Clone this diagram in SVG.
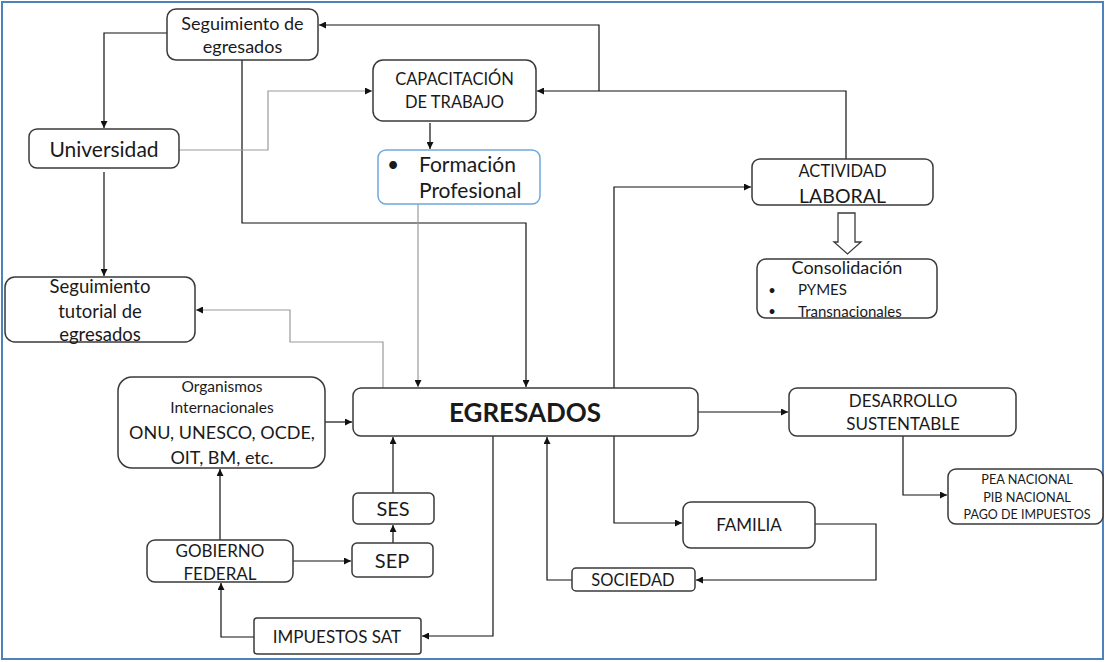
<svg xmlns="http://www.w3.org/2000/svg" width="1105" height="662" viewBox="0 0 1105 662">
<style>
.b{fill:#fff;stroke:#3a3a3a;stroke-width:1.5}
.bl{fill:#fff;stroke:#6fa8dc;stroke-width:1.5}
.t{font-family:Lato,"Liberation Sans",sans-serif;fill:#1a1a1a;text-anchor:middle}
.l{text-anchor:start}
.c{fill:none;stroke:#111;stroke-width:1.2}
.g{fill:none;stroke:#9a9a9a;stroke-width:1.2}
</style>
<defs>
<marker id="a" viewBox="0 0 10 10" refX="10" refY="5" markerWidth="7" markerHeight="7" markerUnits="userSpaceOnUse" orient="auto"><path d="M0,0 L10,5 L0,10 z" fill="#111"/></marker>
</defs>
<rect x="2" y="2" width="1101" height="657" fill="#fff" stroke="#4f81bd" stroke-width="2"/>
<g id="connectors">
<path class="c" d="M167,33 H104 V128" marker-end="url(#a)"/>
<path class="c" d="M242,60 V223 H526 V387" marker-end="url(#a)"/>
<path class="g" d="M179,150 H268 V91 H372" marker-end="url(#a)"/>
<path class="c" d="M104,172 V276" marker-end="url(#a)"/>
<path class="c" d="M430,123 V149" marker-end="url(#a)"/>
<path class="g" d="M418,204 V387" marker-end="url(#a)"/>
<path class="g" d="M383,388 V342 H290 V310 H196" marker-end="url(#a)"/>
<path class="c" d="M846,159 V91 H537" marker-end="url(#a)"/>
<path class="c" d="M599,91 V25 H319" marker-end="url(#a)"/>
<path class="c" d="M614,388 V187 H751" marker-end="url(#a)"/>
<path class="c" d="M614,436 V523 H682" marker-end="url(#a)"/>
<path class="c" d="M815,524 H876 V580 H696" marker-end="url(#a)"/>
<path class="c" d="M572,580 H547 V437" marker-end="url(#a)"/>
<path class="c" d="M493,436 V636 H422" marker-end="url(#a)"/>
<path class="c" d="M254,637 H221 V583" marker-end="url(#a)"/>
<path class="c" d="M220,540 V469" marker-end="url(#a)"/>
<path class="c" d="M293,561 H351" marker-end="url(#a)"/>
<path class="c" d="M393,543 V525" marker-end="url(#a)"/>
<path class="c" d="M393,493 V437" marker-end="url(#a)"/>
<path class="c" d="M325,422 H352" marker-end="url(#a)"/>
<path class="c" d="M698,412 H788" marker-end="url(#a)"/>
<path class="c" d="M903,436 V495 H947" marker-end="url(#a)"/>
<path d="M838,213 H855 V242 H861 L847.5,254 L834,242 H838 Z" fill="#fff" stroke="#3a3a3a" stroke-width="1.3"/>
</g>
<g id="seguimiento-egresados">
<rect class="b" x="167" y="9" width="151" height="51" rx="9"/>
<text class="t" font-size="18" x="242.5" y="30">Seguimiento de</text>
<text class="t" font-size="18" x="242.5" y="53">egresados</text>
</g>
<g id="universidad">
<rect class="b" x="29" y="129" width="150" height="39" rx="8"/>
<text class="t" font-size="21" x="104" y="157">Universidad</text>
</g>
<g id="capacitacion">
<rect class="b" x="373" y="60" width="163" height="61" rx="10"/>
<text class="t" font-size="16.5" x="454.5" y="85">CAPACITACIÓN</text>
<text class="t" font-size="16.5" x="454.5" y="108">DE TRABAJO</text>
</g>
<g id="formacion">
<rect class="bl" x="378" y="150" width="162" height="54" rx="8"/>
<text class="t" font-size="21" x="393" y="172">•</text>
<text class="t l" font-size="21" x="419" y="172">Formación</text>
<text class="t l" font-size="21" x="419" y="198">Profesional</text>
</g>
<g id="actividad-laboral">
<rect class="b" x="752" y="159" width="181" height="46" rx="8"/>
<text class="t" font-size="16.5" x="842.5" y="177">ACTIVIDAD</text>
<text class="t" font-size="19.5" x="842.5" y="203">LABORAL</text>
</g>
<g id="consolidacion">
<rect class="b" x="757" y="259" width="180" height="59" rx="9"/>
<text class="t" font-size="18" x="847" y="274">Consolidación</text>
<text class="t" font-size="13" x="772" y="295">•</text>
<text class="t l" font-size="15" x="798" y="295">PYMES</text>
<text class="t" font-size="13" x="772" y="316">•</text>
<text class="t l" font-size="15" x="798" y="317">Transnacionales</text>
</g>
<g id="seguimiento-tutorial">
<rect class="b" x="5" y="277" width="190" height="65" rx="10"/>
<text class="t" font-size="18.5" x="100" y="293">Seguimiento</text>
<text class="t" font-size="18.5" x="100" y="318">tutorial de</text>
<text class="t" font-size="18.5" x="100" y="341">egresados</text>
</g>
<g id="organismos">
<rect class="b" x="118" y="377" width="207" height="91" rx="14"/>
<text class="t" font-size="15.5" x="222" y="392">Organismos</text>
<text class="t" font-size="15.5" x="222" y="413">Internacionales</text>
<text class="t" font-size="18" x="222" y="439">ONU, UNESCO, OCDE,</text>
<text class="t" font-size="18" x="222" y="464">OIT, BM, etc.</text>
</g>
<g id="egresados">
<rect class="b" x="353" y="388" width="345" height="48" rx="8"/>
<text class="t" x="525" y="422" style="font-size:26px;font-weight:bold">EGRESADOS</text>
</g>
<g id="desarrollo">
<rect class="b" x="789" y="388" width="227" height="48" rx="8"/>
<text class="t" font-size="17" x="903" y="407">DESARROLLO</text>
<text class="t" font-size="17" x="903" y="430">SUSTENTABLE</text>
</g>
<g id="pea">
<rect class="b" x="948" y="469" width="155" height="55" rx="8"/>
<text class="t" font-size="12.7" x="1027" y="484">PEA NACIONAL</text>
<text class="t" font-size="12.7" x="1027" y="502">PIB NACIONAL</text>
<text class="t" font-size="12.5" x="1027" y="519">PAGO DE IMPUESTOS</text>
</g>
<g id="familia">
<rect class="b" x="683" y="502" width="132" height="46" rx="8"/>
<text class="t" font-size="17" x="749" y="531">FAMILIA</text>
</g>
<g id="sociedad">
<rect class="b" x="572" y="568" width="123" height="23" rx="4"/>
<text class="t" font-size="16.5" x="633" y="586">SOCIEDAD</text>
</g>
<g id="ses">
<rect class="b" x="353" y="493" width="81" height="31" rx="5"/>
<text class="t" font-size="20" x="393" y="516">SES</text>
</g>
<g id="sep">
<rect class="b" x="352" y="543" width="81" height="34" rx="5"/>
<text class="t" font-size="20" x="392" y="568">SEP</text>
</g>
<g id="gobierno">
<rect class="b" x="147" y="540" width="146" height="42" rx="8"/>
<text class="t" font-size="17" x="220" y="557">GOBIERNO</text>
<text class="t" font-size="17" x="220" y="580">FEDERAL</text>
</g>
<g id="impuestos">
<rect class="b" x="254" y="618" width="167" height="36" rx="3"/>
<text class="t" font-size="17" x="337" y="643">IMPUESTOS SAT</text>
</g>
</svg>
